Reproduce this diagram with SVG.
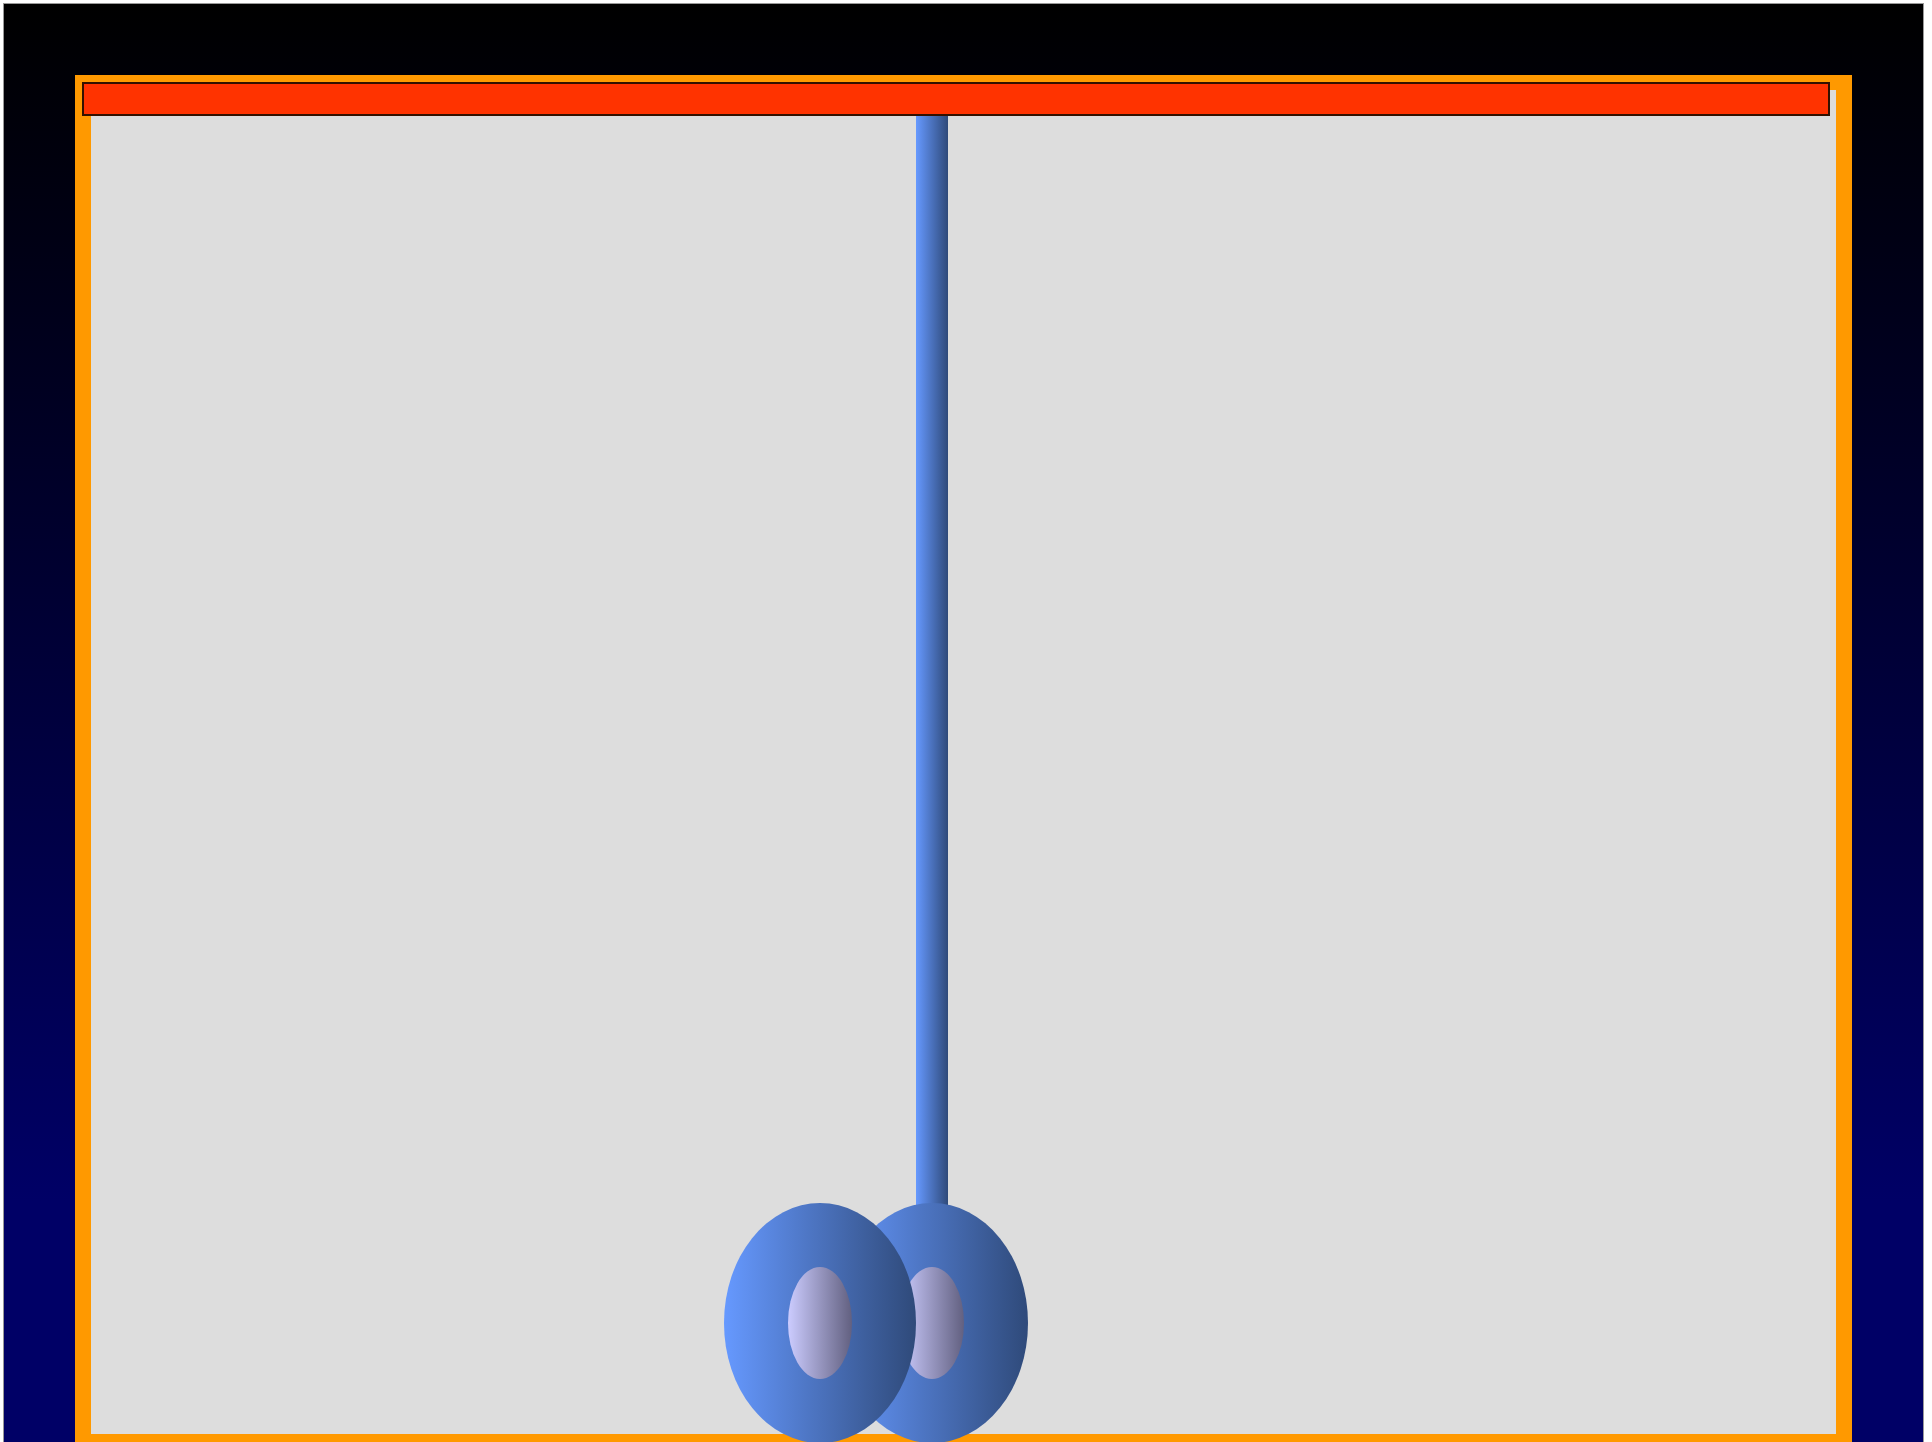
<svg xmlns="http://www.w3.org/2000/svg" width="1932" height="1442" viewBox="0 0 1932 1442">
<defs>
<linearGradient id="bg" x1="0" y1="0" x2="0" y2="1">
<stop offset="0" stop-color="#000000"/>
<stop offset="0.82" stop-color="#000066"/>
<stop offset="1" stop-color="#000066"/>
</linearGradient>
<linearGradient id="blue" x1="0" y1="0" x2="1" y2="0">
<stop offset="0" stop-color="#6699ff"/>
<stop offset="1" stop-color="#2f4a7a"/>
</linearGradient>
<linearGradient id="hole" x1="0" y1="0" x2="1" y2="0">
<stop offset="0" stop-color="#ccccff"/>
<stop offset="1" stop-color="#626080"/>
</linearGradient>
</defs>
<rect id="background" x="3.5" y="3.5" width="1920" height="1460" fill="url(#bg)" stroke="#999999" stroke-width="1"/>
<g id="frame">
<rect x="75" y="75" width="1777" height="1390" fill="#ff9900"/>
<rect x="91" y="90" width="1745" height="1344" fill="#dddddd"/>
</g>
<g id="rod">
<rect x="916" y="110" width="32" height="1110" fill="url(#blue)"/>
</g>
<g id="bar">
<rect x="83" y="83" width="1746" height="32" fill="#ff3300" stroke="#331100" stroke-width="2"/>
</g>
<g id="disc-right">
<ellipse cx="932" cy="1323" rx="96" ry="120" fill="url(#blue)"/>
<ellipse cx="932" cy="1323" rx="32" ry="56" fill="url(#hole)"/>
</g>
<g id="disc-left">
<ellipse cx="820" cy="1323" rx="96" ry="120" fill="url(#blue)"/>
<ellipse cx="820" cy="1323" rx="32" ry="56" fill="url(#hole)"/>
</g>
</svg>
